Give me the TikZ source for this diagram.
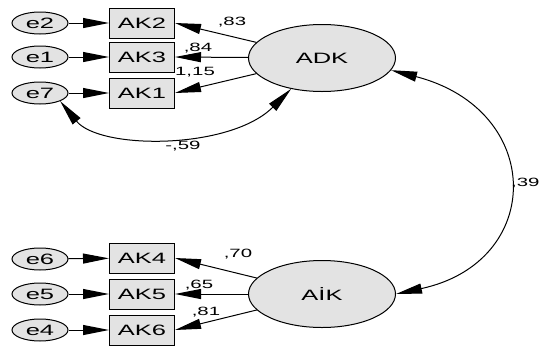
\documentclass[tikz,border=0pt]{standalone}
\usepackage{fontspec}
\setmainfont[FakeStretch=1.7]{Liberation Sans}
\usetikzlibrary{calc, shapes.geometric, arrows.meta, positioning}

\begin{document}
\begin{tikzpicture}[%
    x=1pt, y=1pt,         % one unit = one pixel
    >={Triangle[length=26pt, width=10pt]},
    line width=1pt,
    every node/.style={font=\fontsize{15}{17}\selectfont},
    errnode/.style={draw, ellipse, fill=gray!22, minimum width=56pt, minimum height=22pt, inner sep=0pt},
    obsnode/.style={draw, rectangle, fill=gray!22, minimum width=65pt, minimum height=30pt, inner sep=0pt},
    latnode/.style={draw, ellipse, fill=gray!22, minimum width=147pt, minimum height=67pt, inner sep=0pt},
    coef/.style={font=\fontsize{12}{14}\selectfont, inner sep=0pt},
    ]

\useasboundingbox (0,0) rectangle (541,-349);

%==================================================
% Coordinates
%==================================================

\coordinate (E) at (40,0);
\coordinate (B) at (142,0);
\coordinate (L) at (322,0);

%==================================================
% Error nodes
%==================================================
\node[errnode] (e2) at ($(E)+(0,-23)$)  {e2};
\node[errnode] (e1) at ($(E)+(0,-57)$)  {e1};
\node[errnode] (e7) at ($(E)+(0,-93)$)  {e7};

\node[errnode] (e6) at ($(E)+(0,-259)$) {e6};
\node[errnode] (e5) at ($(E)+(0,-294)$) {e5};
\node[errnode] (e4) at ($(E)+(0,-330)$) {e4};

%==================================================
% Observed nodes
%==================================================
\node[obsnode] (AK2) at ($(B)+(0,-23)$)  {AK2};
\node[obsnode] (AK3) at ($(B)+(0,-57)$)  {AK3};
\node[obsnode] (AK1) at ($(B)+(0,-93)$)  {AK1};

\node[obsnode] (AK4) at ($(B)+(0,-258)$) {AK4};
\node[obsnode] (AK5) at ($(B)+(0,-294)$) {AK5};
\node[obsnode] (AK6) at ($(B)+(0,-330)$) {AK6};

%==================================================
% Latent nodes
%==================================================
\node[latnode] (ADK) at ($(L)+(0,-58)$)  {ADK};
\node[latnode] (AIK) at ($(L)+(0,-294)$) {AİK};

%==================================================
% Arrows
%==================================================
% Errors
\draw[->] (e2) -- (AK2);
\draw[->] (e1) -- (AK3);
\draw[->] (e7) -- (AK1);
\draw[->] (e6) -- (AK4);
\draw[->] (e5) -- (AK5);
\draw[->] (e4) -- (AK6);

% ADK loadings
\draw[->] (ADK) -- (AK2.east);
\draw[->] (ADK) -- (AK3.east);
\draw[->] (ADK) -- (AK1.east);

\node[coef] (l83) at (232,-22) {,83};
\node[coef] (l84) at (198,-48) {,84};
\node[coef] (l115) at (195,-72) {1,15};

% AIK loadings
\draw[->] (AIK) -- (AK4.east);
\draw[->] (AIK) -- (AK5.east);
\draw[->] (AIK) -- (AK6.east);

\node[coef] (l70) at (238,-254) {,70};
\node[coef] (l65) at (199,-285) {,65};
\node[coef] (l81) at (206,-312) {,81};

% Covariances
\draw[<->] (e7.south east) .. controls (100,-150) and (230,-150) .. (ADK.225);
\node[coef] (l59) at (183,-146) {-,59};

\draw[<->] (ADK.-10) .. controls (545,-110) and (545,-262) .. (AIK.east);
\node[coef, anchor=east] (l39) at (540,-183) {,39};

%==================================================
\end{tikzpicture}
\end{document}
